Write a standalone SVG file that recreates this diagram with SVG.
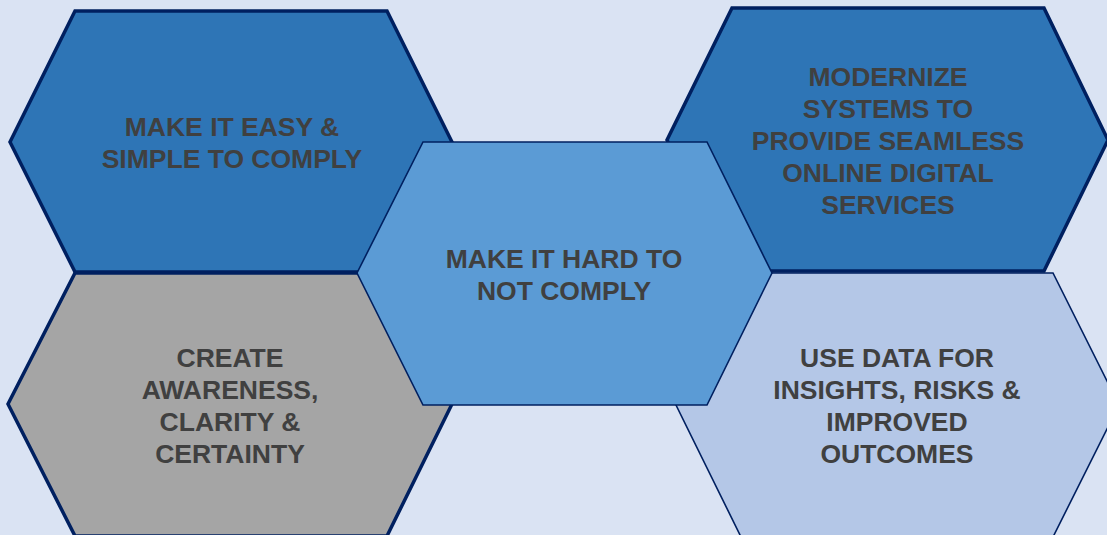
<svg xmlns="http://www.w3.org/2000/svg" width="1107" height="535" viewBox="0 0 1107 535">
  <style>
    .hex { stroke: #002060; stroke-linejoin: miter; }
    .thick { stroke-width: 3.5; }
    .thin { stroke-width: 1.6; }
    .label { font-family: "Liberation Sans", Arial, sans-serif; font-weight: bold; font-size: 26.5px; fill: #404040; text-anchor: middle; }
  </style>
  <rect width="1107" height="535" fill="#dae3f3"/>

  <g id="node-easy">
    <polygon class="hex thick" fill="#2e75b6" points="75,11 387,11 452,142 387,272 75,272 10,142"/>
    <text class="label"><tspan x="232" y="136">MAKE IT EASY &amp;</tspan><tspan x="232" y="168">SIMPLE TO COMPLY</tspan></text>
  </g>

  <g id="node-awareness">
    <polygon class="hex thick" fill="#a5a5a5" points="75,273 387,273 452,404 387,536 75,536 8,404"/>
    <text class="label"><tspan x="230" y="367">CREATE</tspan><tspan x="230" y="399">AWARENESS,</tspan><tspan x="230" y="431">CLARITY &amp;</tspan><tspan x="230" y="463">CERTAINTY</tspan></text>
  </g>

  <g id="node-data">
    <polygon class="hex thin" fill="#b4c7e7" points="741,273 1053,273 1119,405 1053,537 741,537 676,405"/>
    <text class="label"><tspan x="897" y="367">USE DATA FOR</tspan><tspan x="897" y="399">INSIGHTS, RISKS &amp;</tspan><tspan x="897" y="431">IMPROVED</tspan><tspan x="897" y="463">OUTCOMES</tspan></text>
  </g>

  <g id="node-modernize">
    <polygon class="hex thick" fill="#2e75b6" points="732,8 1044,8 1108,140 1044,271 732,271 667,140"/>
    <text class="label"><tspan x="888" y="86">MODERNIZE</tspan><tspan x="888" y="118">SYSTEMS TO</tspan><tspan x="888" y="150">PROVIDE SEAMLESS</tspan><tspan x="888" y="182">ONLINE DIGITAL</tspan><tspan x="888" y="214">SERVICES</tspan></text>
  </g>

  <g id="node-hard">
    <polygon class="hex thin" fill="#5b9bd5" points="423,142 707,142 772,273 707,405 423,405 357,273"/>
    <text class="label"><tspan x="564" y="268">MAKE IT HARD TO</tspan><tspan x="564" y="300">NOT COMPLY</tspan></text>
  </g>

  <g id="connectors"/>
</svg>
